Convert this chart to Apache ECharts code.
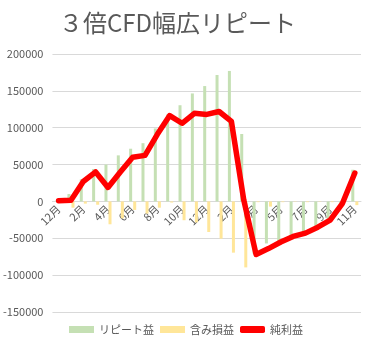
<!DOCTYPE html>
<html>
<head>
<meta charset="utf-8">
<script src="https://cdn.jsdelivr.net/npm/echarts@6/dist/echarts.min.js"></script>
<style>
  html, body { margin: 0; padding: 0; background: #fff; }
  #main { width: 372px; height: 351px; }
</style>
</head>
<body>
<div id="main"></div>
<script>
// 月（横軸）
var months = ['12月', '1月', '2月', '3月', '4月', '5月', '6月', '7月', '8月', '9月', '10月', '11月',
  '12月', '1月', '2月', '3月', '4月', '4月', '5月', '6月', '7月', '8月', '9月', '10月', '11月'];
// リピート益
var repeatGain = [1000, 10000, 30000, 44000, 50000, 62500, 71500, 79000, 99000, 118000, 130500, 146500,
  156500, 171500, 177000, 91500, -71000, -57000, -54000, -47000, -42500, -34500, -25000, -2000, 43000];
// 含み損益
var unrealized = [0, -8500, -3000, -4500, -31000, -23000, -11500, -16500, -8500, -1500, -25500, -28500,
  -41500, -50500, -69500, -89500, -1000, -7000, -1000, -500, -1000, -500, -1000, -500, -5000];
// 純利益
var netGain = [1000, 1500, 27000, 40000, 19000, 40000, 60000, 62500, 91000, 116500, 106000, 119500,
  118000, 122000, 108500, 2000, -72000, -64000, -55000, -47500, -43000, -35000, -25500, -2500, 38500];

var font = '"Noto Sans CJK JP", "Noto Sans", sans-serif';
var textColor = '#595959';

var myChart = echarts.init(document.getElementById('main'));
myChart.setOption({
  animation: false,
  textStyle: { fontFamily: font },
  title: {
    text: '３倍CFD幅広リピート',
    left: 54,
    top: 6,
    textStyle: { fontSize: 24, fontWeight: 'normal', color: textColor, fontFamily: font }
  },
  legend: {
    bottom: 11,
    left: 'center',
    itemWidth: 25,
    itemHeight: 7,
    itemGap: 6,
    textStyle: { fontSize: 11, color: textColor, fontFamily: font },
    data: [
      { name: 'リピート益', icon: 'rect' },
      { name: '含み損益', icon: 'rect' },
      { name: '純利益', icon: 'roundRect' }
    ]
  },
  grid: { left: 45, right: 11, top: 54, bottom: 39 },
  xAxis: {
    type: 'category',
    data: months,
    // 軸ラベルを0の位置に置く
    offset: -111,
    axisLine: { onZero: false, lineStyle: { color: '#d9d9d9' } },
    axisTick: { show: false },
    axisLabel: {
      interval: 1,
      rotate: 45,
      margin: 6,
      fontSize: 11,
      color: textColor,
      fontFamily: font
    }
  },
  yAxis: {
    type: 'value',
    min: -150000,
    max: 200000,
    interval: 50000,
    axisLine: { show: false },
    axisTick: { show: false },
    axisLabel: {
      fontSize: 11, color: textColor, margin: 9, fontFamily: font,
      formatter: function (v) { return String(v); }
    },
    splitLine: { lineStyle: { color: '#d9d9d9' } }
  },
  series: [
    {
      name: 'リピート益',
      type: 'bar',
      data: repeatGain,
      barWidth: 3,
      barGap: '35%',
      itemStyle: { color: '#c5e0b4' }
    },
    {
      name: '含み損益',
      type: 'bar',
      data: unrealized,
      barWidth: 3,
      itemStyle: { color: '#ffe699' }
    },
    {
      name: '純利益',
      type: 'line',
      data: netGain,
      symbol: 'none',
      z: 5,
      lineStyle: { color: '#ff0000', width: 5.5, join: 'round', cap: 'round' },
      itemStyle: { color: '#ff0000' }
    }
  ]
});
</script>
</body>
</html>
